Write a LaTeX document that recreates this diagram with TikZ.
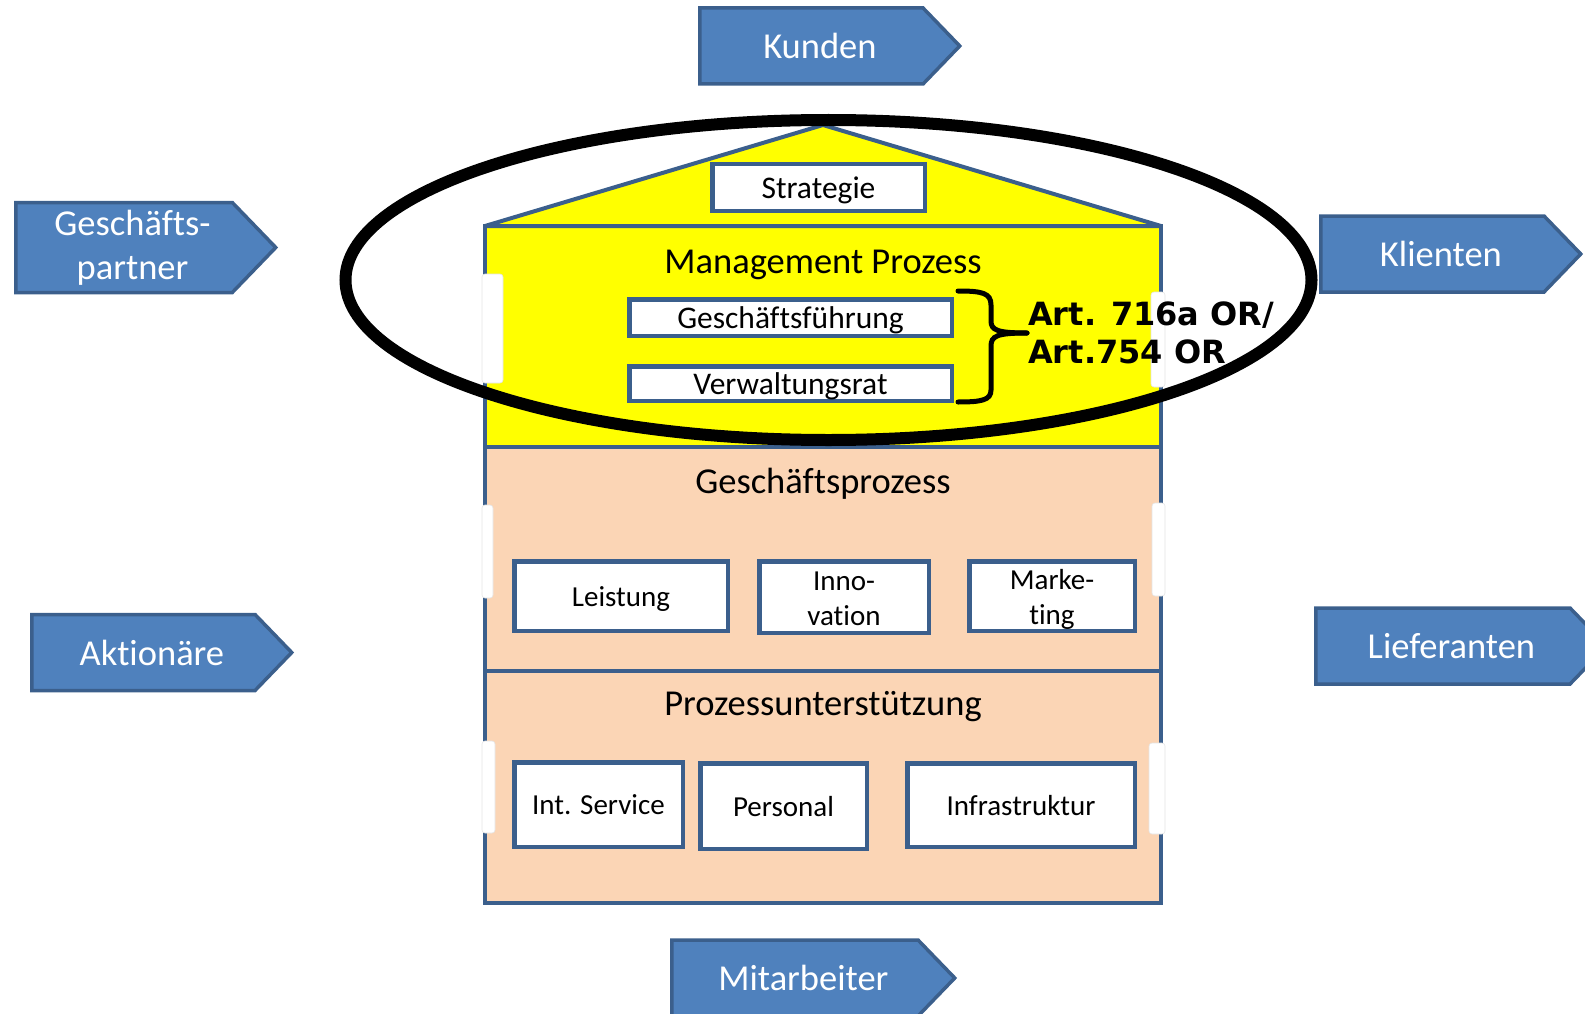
\documentclass[tikz,border=0pt]{standalone}
\usepackage{fontspec}
\setmainfont{Carlito}[Ligatures=CommonOff]
\newfontfamily\artfont{DejaVu Sans}
\usetikzlibrary{shapes.symbols}
\definecolor{partnerblue}{HTML}{4F81BD}
\definecolor{rimblue}{HTML}{3B5F8C}
\definecolor{mgmtyellow}{HTML}{FFFF00}
\definecolor{peach}{HTML}{FBD5B5}
\tikzstyle{party}=[signal, signal to=east, signal pointer angle=92, fill=partnerblue, draw=rimblue, line width=3.5pt, text=white, anchor=west, inner sep=0pt, minimum height=76pt, align=center, font=\fontsize{36.5}{44}\selectfont, execute at begin node=\hspace*{17pt}]
\tikzstyle{unit}=[rectangle, draw=rimblue, fill=white, line width=4.5pt, inner sep=0pt, align=center, text height=20pt, text depth=0pt, font=\fontsize{29}{35}\selectfont]
\tikzstyle{board}=[unit, text height=21pt, font=\fontsize{31.5}{38}\selectfont]
\tikzstyle{layer title}=[inner sep=0pt, font=\fontsize{36.5}{44}\selectfont]
\tikzstyle{wall}=[draw=rimblue, line width=4pt]
\tikzstyle{notch}=[fill=white, draw=black!10, line width=0.6pt, rounded corners=3pt]

\begin{document}
\begin{tikzpicture}[x=1pt,y=-1pt]
    \useasboundingbox (0,0) rectangle (1585,1014);
    % First we draw the house
    \fill[mgmtyellow] (485,226) rectangle (1161,447);
    \fill[peach] (485,447) rectangle (1161,903);
    \draw[wall, fill=mgmtyellow, line join=round] (485,226) -- (823,125) -- (1161,226) -- cycle;
    \draw[wall] (485,226) rectangle (1161,903);
    \draw[wall] (485,447) -- (1161,447);
    \draw[wall] (485,671) -- (1161,671);
    \foreach \xa/\ya/\xb/\yb in {482/274/503/383, 1151/292/1165/387, 482/505/493/598, 1152/503/1165/596, 482/741/495/833, 1149/743/1165/834}
        \draw[notch] (\xa,\ya) rectangle (\xb,\yb);

    % the layers and their boxes
    \node[layer title] (mgmt) at (823,265) {Management Prozess};
    \node[layer title] (business) at (823,484) {Geschäftsprozess};
    \node[layer title] (support) at (823,707) {Prozessunterstützung};

    \foreach \pos/\name/\bw/\bh/\txt in {{(818.5,187.5)/strategie/212.5/46.5/Strategie}, {(790.5,317.5)/gf/322.5/36.5/Geschäftsführung}, {(790.5,383.5)/vr/322.5/34.5/Verwaltungsrat}}
        \node[board, minimum width=\bw, minimum height=\bh] (\name) at \pos {\txt};

    \foreach \pos/\name/\bw/\bh/\tht/\txt in {{(621,596)/leistung/213.5/69.5/20/Leistung}, {(844,597)/innovation/169.5/71.5/56/Inno-\\vation}, {(1052,596)/marketing/165.5/69.5/56/Marke-\\ting}, {(598.5,804.5)/intservice/168.5/84.5/20/Int. Service}, {(783.5,806)/personal/166.5/85.5/20/Personal}, {(1021,805)/infra/227.5/83.5/20/Infrastruktur}}
        \node[unit, minimum width=\bw, minimum height=\bh, text height=\tht] (\name) at \pos {\txt};

    % management ring and the legal reference
    \draw[line width=12pt] (828.5,280) ellipse [x radius=483, y radius=160];
    \draw[line width=5pt, line cap=round] (958,291) .. controls (982,291) and (991,293) .. (991,305) -- (991,321) .. controls (991,330) and (997,333) .. (1027,333);
    \draw[line width=5pt, line cap=round] (1027,333) .. controls (997,333) and (991,336) .. (991,346) -- (991,390) .. controls (991,400) and (982,402) .. (958,402);
    \node[anchor=west, inner sep=0pt, align=left, font=\artfont\bfseries\fontsize{32}{37.5}\selectfont] (art) at (1028,333) {Art. 716a OR/\\Art.754 OR};

    % stakeholders round the house
    \foreach \pos/\name/\bw/\txt in {{(698,46)/kunden/260/Kunden}, {(30,652.5)/aktionaere/260/Aktionäre}, {(1319,254)/klienten/260/Klienten}, {(1314,646)/lieferanten/291/Lieferanten}, {(670,978)/mitarbeiter/283/Mitarbeiter}}
        \node[party, minimum width=\bw] (\name) at \pos {\txt};
    \node[party, minimum width=260, minimum height=90] (gpartner) at (14,247.5) {Geschäfts-\\partner};
\end{tikzpicture}
\end{document}
